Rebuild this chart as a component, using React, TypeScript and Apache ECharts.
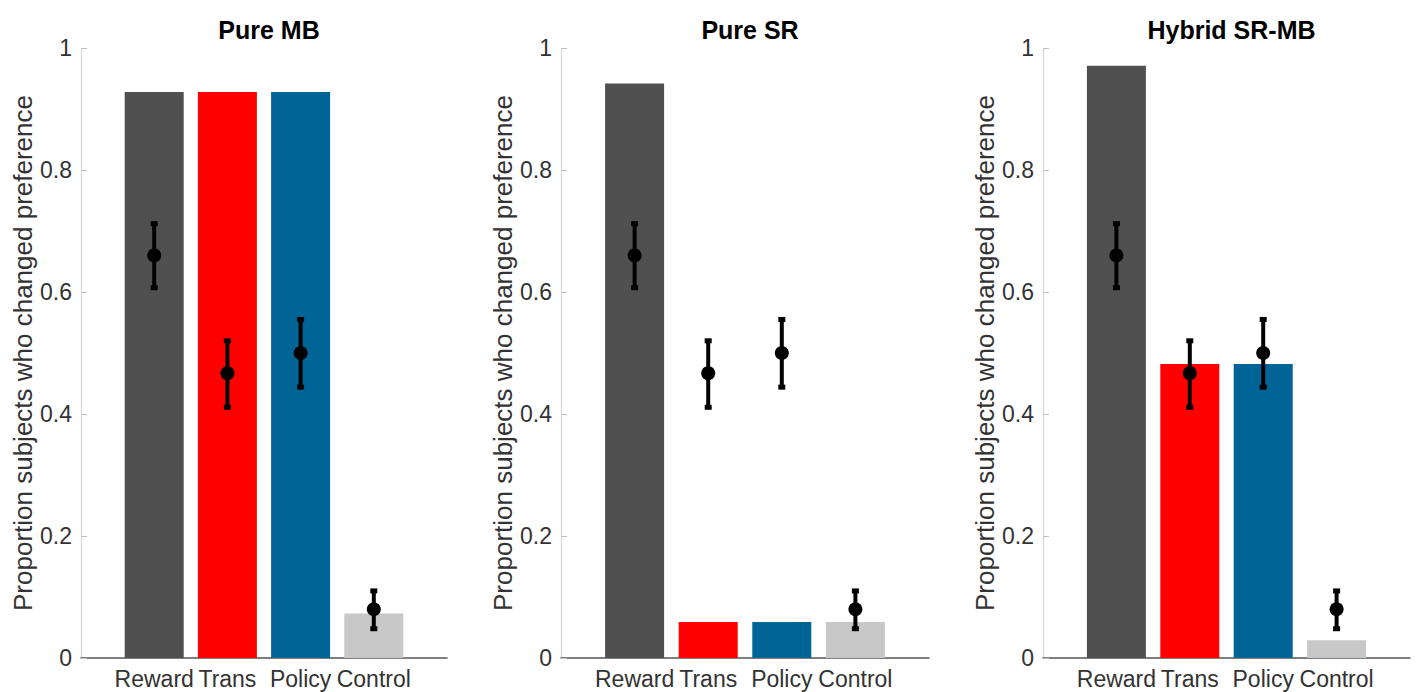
import React, { useEffect, useRef } from "react";
import * as echarts from "echarts";

const categories = ["Reward", "Trans", "Policy", "Control"];
const panelTitles = ["Pure MB", "Pure SR", "Hybrid SR-MB"];
const barColors = ["#505050", "#ff0000", "#006496", "#c8c8c8"];

const pureMB = [0.928, 0.928, 0.928, 0.073];
const pureSR = [0.942, 0.059, 0.059, 0.059];
const hybrid = [0.971, 0.482, 0.482, 0.029];
const panelValues = [pureMB, pureSR, hybrid];

const humanMean = [0.66, 0.467, 0.5, 0.08];
const humanLow = [0.607, 0.411, 0.444, 0.048];
const humanHigh = [0.712, 0.52, 0.555, 0.11];

const yLabel = "Proportion subjects who changed preference";
const font = "'Liberation Sans', Arial, Helvetica, sans-serif";

const grids = [
  { left: 81, width: 366 },
  { left: 561, width: 368 },
  { left: 1043, width: 367 },
];

export default function App() {
  const ref = useRef<HTMLDivElement>(null);
  useEffect(() => {
    if (!ref.current) return;
    const chart = echarts.init(ref.current, null, { renderer: "svg" });
    const option: any = {
      animation: false,
      backgroundColor: "#ffffff",
      textStyle: { fontFamily: font },
      title: grids.map((g, i) => ({
        text: panelTitles[i],
        left: g.left + g.width / 2,
        top: 12,
        textAlign: "center",
        textStyle: { fontFamily: font, fontSize: 25, fontWeight: "bold", color: "#000" },
      })),
      grid: grids.map((g) => ({ left: g.left, width: g.width, top: 48, height: 610 })),
      xAxis: grids.map((_, i) => ({
        type: "value",
        gridIndex: i,
        min: 0,
        max: 5,
        interval: 1,
        splitLine: { show: false },
        axisTick: { show: false },
        axisLine: { show: true, onZero: false, lineStyle: { color: "#555", width: 1.5 } },
        axisLabel: {
          formatter: (v: number) => (v >= 1 && v <= 4 ? categories[v - 1] : ""),
          fontSize: 23,
          color: "#333",
          fontFamily: font,
          margin: 9,
          showMinLabel: true,
          showMaxLabel: true,
        },
      })),
      yAxis: grids.map((_, i) => ({
        type: "value",
        gridIndex: i,
        min: 0,
        max: 1,
        interval: 0.2,
        name: yLabel,
        nameLocation: "middle",
        nameGap: 45,
        nameTextStyle: { fontSize: 26, color: "#333", fontFamily: font },
        splitLine: { show: false },
        axisLine: { show: true, lineStyle: { color: "#d9d3d3", width: 1.2 } },
        axisTick: { show: true, inside: true, length: 6, lineStyle: { color: "#c9bcbc" } },
        axisLabel: { fontSize: 23, color: "#333", fontFamily: font, margin: 9 },
      })),
      series: [] as any[],
    };

    panelValues.forEach((vals, p) => {
      option.series.push({
        type: "bar",
        xAxisIndex: p,
        yAxisIndex: p,
        barWidth: 59,
        data: vals.map((v, k) => ({ value: [k + 1, v], itemStyle: { color: barColors[k] } })),
      });
      option.series.push({
        type: "custom",
        xAxisIndex: p,
        yAxisIndex: p,
        z: 5,
        data: humanMean.map((_, k) => [k + 1, humanLow[k], humanHigh[k]]),
        renderItem: (params: any, api: any) => {
          const x = api.value(0);
          const lo = api.coord([x, api.value(1)]);
          const hi = api.coord([x, api.value(2)]);
          const cap = 3.5;
          const st = { stroke: "#000", lineWidth: 4 };
          return {
            type: "group",
            children: [
              { type: "line", shape: { x1: lo[0], y1: lo[1], x2: hi[0], y2: hi[1] }, style: st },
              { type: "line", shape: { x1: lo[0] - cap, y1: lo[1], x2: lo[0] + cap, y2: lo[1] }, style: { stroke: "#000", lineWidth: 5 } },
              { type: "line", shape: { x1: hi[0] - cap, y1: hi[1], x2: hi[0] + cap, y2: hi[1] }, style: { stroke: "#000", lineWidth: 5 } },
            ],
          };
        },
      });
      option.series.push({
        type: "scatter",
        xAxisIndex: p,
        yAxisIndex: p,
        z: 6,
        symbol: "circle",
        symbolSize: 14,
        itemStyle: { color: "#000", opacity: 1 },
        data: humanMean.map((v, k) => [k + 1, v]),
      });
    });

    chart.setOption(option);
    return () => chart.dispose();
  }, []);
  return (
    <div
      ref={ref}
      style={{ position: "absolute", left: 0, top: 0, width: 1418, height: 692 }}
    />
  );
}
